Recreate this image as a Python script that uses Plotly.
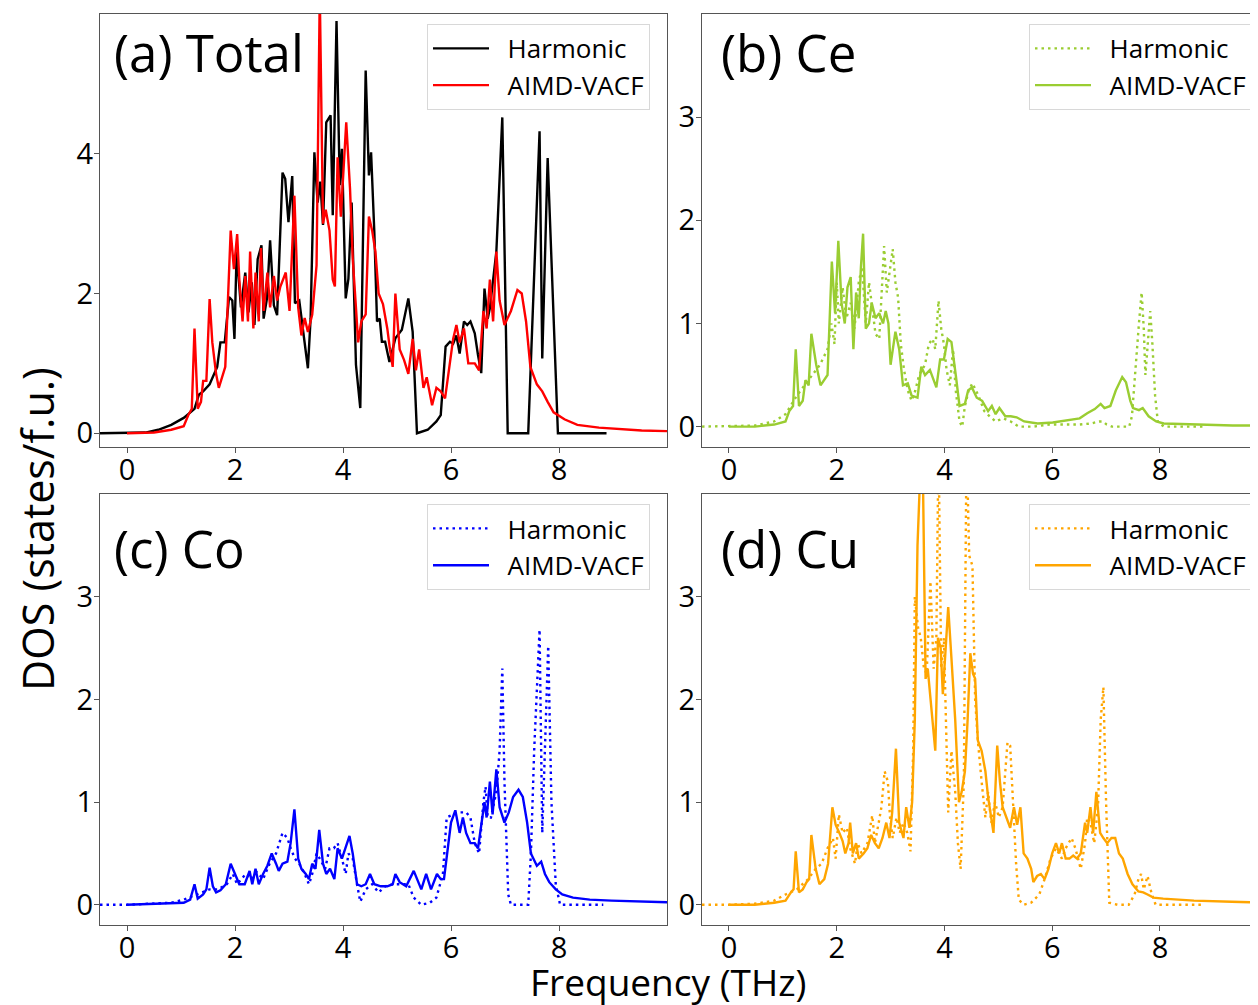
import plotly.graph_objects as go

# ---------------- data (frequency THz, DOS states/f.u.) ----------------
total_harmonic = [(-0.5,0),(0.0,0),(0.34,0.01),(0.58,0.05),(0.82,0.12),(1.05,0.22),(1.25,0.35),(1.33,0.55),(1.41,0.6),(1.53,0.7),(1.61,0.85),(1.67,0.95),(1.73,1.3),(1.81,1.3),(1.89,1.95),(1.95,1.9),(1.99,1.35),(2.03,2.6),(2.06,2.3),(2.11,1.8),(2.19,2.3),(2.25,1.73),(2.31,2.16),(2.36,1.55),(2.42,2.49),(2.49,2.69),(2.53,1.64),(2.59,1.92),(2.65,2.76),(2.72,1.83),(2.78,1.69),(2.88,3.73),(2.93,3.64),(2.99,3.02),(3.06,3.68),(3.11,1.86),(3.19,1.9),(3.31,1.21),(3.35,0.93),(3.4,1.64),(3.47,4.02),(3.53,3.3),(3.58,3.6),(3.63,2.98),(3.69,4.45),(3.77,4.55),(3.81,3.12),(3.88,5.9),(3.94,3.55),(3.98,4.07),(4.05,1.93),(4.1,2.21),(4.16,3.3),(4.24,0.98),(4.32,0.36),(4.42,5.19),(4.48,3.69),(4.52,4.02),(4.58,2.88),(4.63,1.6),(4.68,1.64),(4.72,1.31),(4.78,1.31),(4.86,1.02),(4.97,1.36),(5.09,1.48),(5.21,1.93),(5.29,1.45),(5.37,0.0),(5.57,0.05),(5.73,0.17),(5.81,0.26),(5.9,1.24),(5.98,1.31),(6.04,1.28),(6.1,1.4),(6.16,1.14),(6.24,1.6),(6.3,1.55),(6.36,1.6),(6.44,1.43),(6.5,1.12),(6.56,0.86),(6.62,2.07),(6.68,1.64),(6.72,1.79),(6.84,2.6),(6.95,4.52),(7.05,0.0),(7.43,0.0),(7.64,4.32),(7.69,1.07),(7.79,3.94),(7.98,0.0),(8.88,0.0)]
total_aimd = [(0.0,0),(0.5,0.01),(0.82,0.05),(1.05,0.1),(1.13,0.25),(1.2,0.35),(1.25,1.5),(1.31,0.35),(1.37,0.45),(1.41,0.75),(1.47,0.75),(1.53,1.92),(1.58,1.3),(1.65,0.85),(1.7,0.65),(1.82,0.95),(1.92,2.9),(1.98,2.35),(2.04,2.85),(2.08,2.2),(2.14,1.6),(2.19,2.25),(2.24,1.6),(2.28,2.6),(2.34,1.5),(2.38,2.3),(2.44,1.6),(2.48,2.65),(2.53,1.75),(2.6,2.3),(2.65,1.8),(2.72,2.25),(2.78,1.9),(2.84,2.1),(2.94,2.3),(3.01,1.75),(3.1,3.4),(3.17,1.8),(3.23,1.4),(3.29,1.65),(3.35,1.45),(3.43,1.7),(3.51,2.4),(3.57,6.3),(3.63,3.0),(3.68,3.2),(3.75,2.9),(3.81,2.2),(3.85,2.1),(3.9,3.95),(3.96,3.1),(4.0,3.6),(4.06,4.45),(4.13,3.5),(4.18,2.5),(4.24,1.8),(4.28,1.3),(4.34,1.6),(4.42,1.7),(4.48,3.1),(4.54,2.9),(4.6,2.6),(4.66,2.0),(4.74,1.85),(4.82,1.5),(4.87,1.2),(4.92,0.95),(4.97,2.0),(5.05,1.2),(5.13,1.05),(5.21,0.85),(5.29,1.35),(5.35,0.9),(5.41,1.2),(5.49,0.65),(5.55,0.8),(5.65,0.4),(5.73,0.65),(5.81,0.6),(5.89,0.5),(5.96,0.9),(6.04,1.35),(6.1,1.55),(6.16,1.3),(6.24,1.5),(6.32,1.0),(6.44,1.0),(6.52,0.9),(6.6,1.75),(6.66,1.5),(6.72,2.2),(6.78,1.6),(6.84,2.6),(6.9,1.9),(6.99,1.55),(7.11,1.75),(7.23,2.05),(7.31,2.0),(7.39,1.6),(7.47,0.95),(7.59,0.7),(7.69,0.6),(7.79,0.45),(7.9,0.3),(8.1,0.2),(8.34,0.12),(8.74,0.08),(9.13,0.06),(9.53,0.04),(10.0,0.03)]

ce_harmonic = [(-0.5,0),(0.48,0.01),(0.84,0.05),(1.05,0.12),(1.26,0.3),(1.48,0.45),(1.69,0.6),(1.83,0.75),(1.9,1.0),(1.96,0.8),(2.0,1.4),(2.04,1.0),(2.11,1.35),(2.18,1.05),(2.26,1.2),(2.33,0.95),(2.41,1.4),(2.47,1.55),(2.54,1.0),(2.6,1.4),(2.65,1.2),(2.72,0.9),(2.79,0.85),(2.84,1.3),(2.88,1.75),(2.93,1.3),(2.99,1.55),(3.04,1.72),(3.09,1.4),(3.14,1.25),(3.19,0.8),(3.25,0.55),(3.32,0.35),(3.39,0.25),(3.46,0.35),(3.53,0.5),(3.64,0.6),(3.71,0.8),(3.78,0.85),(3.83,0.75),(3.89,1.22),(3.94,0.95),(3.99,0.8),(4.04,0.55),(4.1,0.4),(4.16,0.75),(4.21,0.35),(4.28,0.05),(4.33,0.0),(4.38,0.2),(4.45,0.35),(4.52,0.42),(4.63,0.3),(4.74,0.15),(4.84,0.1),(4.95,0.05),(5.09,0.08),(5.23,0.05),(5.38,0.0),(5.66,0.0),(5.94,0.02),(6.23,0.02),(6.51,0.02),(6.72,0.03),(6.87,0.05),(6.94,0.05),(7.01,0.02),(7.11,0.0),(7.43,0.0),(7.48,0.1),(7.54,0.55),(7.61,1.0),(7.66,1.3),(7.7,0.95),(7.73,0.5),(7.77,0.8),(7.82,1.12),(7.86,0.8),(7.91,0.3),(7.96,0.05),(8.07,0.0),(8.8,0.0)]
ce_aimd = [(0,0),(0.48,0.0),(0.84,0.02),(1.05,0.05),(1.12,0.15),(1.19,0.2),(1.24,0.75),(1.3,0.2),(1.37,0.25),(1.42,0.45),(1.48,0.4),(1.53,0.9),(1.62,0.6),(1.7,0.4),(1.83,0.5),(1.91,1.6),(1.97,1.1),(2.03,1.8),(2.09,1.2),(2.15,1.0),(2.2,1.35),(2.26,1.45),(2.31,0.75),(2.36,1.3),(2.41,1.05),(2.45,1.55),(2.49,1.87),(2.54,0.95),(2.6,1.0),(2.65,1.2),(2.72,1.05),(2.79,1.1),(2.86,1.0),(2.91,1.12),(2.96,1.0),(3.0,0.6),(3.09,0.92),(3.16,0.75),(3.23,0.4),(3.32,0.42),(3.39,0.3),(3.5,0.28),(3.57,0.58),(3.64,0.5),(3.73,0.55),(3.8,0.45),(3.85,0.38),(3.92,0.65),(3.99,0.65),(4.06,0.85),(4.13,0.82),(4.21,0.5),(4.28,0.2),(4.38,0.22),(4.44,0.35),(4.51,0.38),(4.6,0.28),(4.7,0.25),(4.81,0.15),(4.88,0.2),(4.95,0.12),(5.02,0.18),(5.13,0.1),(5.23,0.1),(5.34,0.09),(5.48,0.05),(5.73,0.03),(6.01,0.04),(6.3,0.06),(6.51,0.08),(6.65,0.13),(6.79,0.17),(6.9,0.22),(6.97,0.18),(7.08,0.2),(7.18,0.35),(7.3,0.48),(7.37,0.43),(7.45,0.25),(7.5,0.18),(7.61,0.16),(7.68,0.18),(7.79,0.1),(7.93,0.05),(8.07,0.03),(8.64,0.02),(9.35,0.01),(10.0,0.01)]

co_harmonic = [(-0.5,0),(0.0,0),(0.82,0.02),(1.05,0.05),(1.29,0.1),(1.53,0.15),(1.69,0.15),(1.85,0.2),(1.96,0.3),(2.04,0.2),(2.2,0.3),(2.32,0.25),(2.4,0.32),(2.52,0.25),(2.64,0.4),(2.76,0.5),(2.88,0.7),(2.97,0.65),(3.03,0.55),(3.11,0.45),(3.19,0.4),(3.29,0.3),(3.37,0.2),(3.43,0.3),(3.51,0.5),(3.57,0.45),(3.67,0.35),(3.75,0.55),(3.83,0.55),(3.9,0.6),(3.98,0.45),(4.05,0.3),(4.1,0.5),(4.18,0.45),(4.26,0.2),(4.32,0.03),(4.42,0.15),(4.54,0.2),(4.66,0.12),(4.78,0.18),(4.93,0.2),(5.09,0.2),(5.21,0.2),(5.31,0.07),(5.45,0.0),(5.61,0.02),(5.73,0.07),(5.85,0.3),(5.92,0.85),(6.04,0.88),(6.16,0.9),(6.28,0.9),(6.36,0.85),(6.44,0.6),(6.52,0.5),(6.6,1.0),(6.64,1.15),(6.68,0.85),(6.74,0.85),(6.84,1.1),(6.9,1.5),(6.95,2.3),(6.99,1.2),(7.06,0.1),(7.11,0.0),(7.43,0.0),(7.48,0.5),(7.54,1.5),(7.64,2.68),(7.69,0.7),(7.74,1.5),(7.8,2.52),(7.86,1.0),(7.94,0.2),(8.02,0.0),(8.82,0.0)]
co_aimd = [(0,0),(0.82,0.01),(1.05,0.02),(1.17,0.05),(1.25,0.2),(1.31,0.06),(1.41,0.1),(1.47,0.15),(1.53,0.36),(1.59,0.18),(1.65,0.12),(1.73,0.14),(1.83,0.2),(1.92,0.4),(2.0,0.3),(2.08,0.2),(2.18,0.2),(2.27,0.33),(2.32,0.2),(2.38,0.35),(2.44,0.2),(2.52,0.3),(2.6,0.38),(2.68,0.5),(2.76,0.4),(2.81,0.33),(2.88,0.4),(2.97,0.42),(3.03,0.6),(3.1,0.93),(3.17,0.45),(3.23,0.35),(3.31,0.3),(3.37,0.25),(3.43,0.4),(3.49,0.35),(3.56,0.73),(3.63,0.4),(3.69,0.3),(3.76,0.35),(3.84,0.25),(3.9,0.55),(3.98,0.45),(4.05,0.55),(4.12,0.67),(4.18,0.5),(4.26,0.2),(4.34,0.18),(4.42,0.2),(4.5,0.3),(4.58,0.2),(4.7,0.18),(4.82,0.18),(4.92,0.2),(4.97,0.3),(5.05,0.22),(5.17,0.18),(5.31,0.33),(5.45,0.15),(5.54,0.3),(5.63,0.15),(5.74,0.3),(5.81,0.25),(5.87,0.25),(5.95,0.6),(6.0,0.8),(6.08,0.92),(6.16,0.7),(6.22,0.85),(6.28,0.7),(6.36,0.6),(6.44,0.6),(6.5,0.55),(6.56,0.8),(6.62,1.0),(6.66,0.85),(6.72,1.2),(6.77,0.88),(6.84,1.32),(6.9,0.95),(6.99,0.8),(7.07,0.9),(7.15,1.05),(7.25,1.12),(7.33,1.05),(7.41,0.8),(7.48,0.5),(7.59,0.38),(7.67,0.42),(7.74,0.3),(7.82,0.22),(7.94,0.15),(8.06,0.1),(8.26,0.07),(8.57,0.05),(8.97,0.04),(9.53,0.03),(10.0,0.025)]

cu_harmonic = [(-0.5,0),(0.0,0),(0.48,0.01),(0.84,0.04),(1.05,0.1),(1.26,0.15),(1.47,0.25),(1.61,0.35),(1.72,0.4),(1.83,0.55),(1.93,0.65),(1.98,0.45),(2.04,0.88),(2.11,0.7),(2.19,0.75),(2.25,0.55),(2.34,0.4),(2.39,0.6),(2.46,0.5),(2.57,0.6),(2.66,0.87),(2.71,0.6),(2.78,0.8),(2.83,0.95),(2.89,1.3),(2.95,1.2),(2.99,0.85),(3.04,0.65),(3.11,0.85),(3.17,0.7),(3.24,0.8),(3.31,0.7),(3.37,0.52),(3.42,1.5),(3.45,3.0),(3.51,2.7),(3.56,2.6),(3.62,2.3),(3.67,2.25),(3.74,3.15),(3.8,2.3),(3.85,2.6),(3.89,4.5),(3.94,2.3),(3.99,2.6),(4.04,1.4),(4.07,0.9),(4.13,1.5),(4.2,1.1),(4.25,0.6),(4.3,0.35),(4.36,1.2),(4.41,4.5),(4.46,3.4),(4.52,3.3),(4.57,2.0),(4.62,1.6),(4.69,1.2),(4.76,0.85),(4.81,1.1),(4.87,0.8),(4.94,1.0),(5.01,0.85),(5.08,0.95),(5.17,1.58),(5.22,1.55),(5.28,0.9),(5.33,0.4),(5.38,0.05),(5.47,0.0),(5.61,0.02),(5.76,0.1),(5.86,0.25),(5.97,0.45),(6.07,0.55),(6.18,0.45),(6.25,0.55),(6.36,0.65),(6.43,0.55),(6.53,0.35),(6.61,0.6),(6.65,0.85),(6.71,0.8),(6.78,0.6),(6.85,0.95),(6.9,1.8),(6.95,2.12),(7.0,1.0),(7.06,0.02),(7.21,0.0),(7.42,0.0),(7.53,0.1),(7.6,0.25),(7.65,0.3),(7.7,0.15),(7.77,0.28),(7.84,0.12),(7.92,0.0),(8.83,0.0)]
cu_aimd = [(0,0),(0.48,0.0),(0.84,0.02),(1.05,0.04),(1.15,0.12),(1.2,0.15),(1.24,0.52),(1.3,0.12),(1.37,0.15),(1.44,0.22),(1.49,0.25),(1.53,0.68),(1.61,0.35),(1.68,0.2),(1.77,0.25),(1.84,0.4),(1.92,0.95),(1.98,0.78),(2.05,0.7),(2.11,0.62),(2.16,0.5),(2.22,0.6),(2.25,0.8),(2.3,0.5),(2.36,0.6),(2.41,0.45),(2.5,0.5),(2.57,0.55),(2.64,0.68),(2.71,0.6),(2.78,0.55),(2.85,0.65),(2.92,0.8),(2.98,0.65),(3.03,0.9),(3.1,1.52),(3.16,0.8),(3.21,0.7),(3.24,0.65),(3.29,0.95),(3.35,0.75),(3.4,1.0),(3.45,1.8),(3.5,3.5),(3.55,4.2),(3.6,4.2),(3.65,2.2),(3.69,2.3),(3.74,2.0),(3.8,1.6),(3.83,1.5),(3.88,2.6),(3.93,2.5),(3.97,2.05),(4.02,2.5),(4.07,2.9),(4.13,2.4),(4.2,1.8),(4.27,1.0),(4.32,1.1),(4.38,1.3),(4.43,1.8),(4.48,2.45),(4.53,2.25),(4.57,2.2),(4.62,1.6),(4.69,1.5),(4.76,1.3),(4.81,1.05),(4.87,0.85),(4.91,0.7),(4.98,1.55),(5.03,1.2),(5.08,0.95),(5.15,0.85),(5.22,0.75),(5.29,0.95),(5.35,0.78),(5.41,0.95),(5.47,0.5),(5.54,0.45),(5.61,0.35),(5.65,0.22),(5.72,0.28),(5.79,0.3),(5.86,0.25),(5.93,0.35),(6.0,0.5),(6.07,0.6),(6.13,0.5),(6.18,0.6),(6.25,0.45),(6.32,0.45),(6.39,0.48),(6.46,0.45),(6.53,0.5),(6.61,0.8),(6.65,0.7),(6.71,0.95),(6.76,0.7),(6.82,1.1),(6.89,0.7),(6.95,0.65),(7.02,0.6),(7.1,0.65),(7.17,0.65),(7.24,0.5),(7.31,0.45),(7.4,0.3),(7.49,0.2),(7.6,0.13),(7.69,0.12),(7.77,0.1),(7.88,0.07),(8.06,0.06),(8.27,0.05),(8.63,0.04),(9.33,0.03),(10.0,0.02)]

panel_titles = ["(a) Total", "(b) Ce", "(c) Co", "(d) Cu"]
series_names = ["\u00a0\u00a0Harmonic", "\u00a0\u00a0AIMD-VACF"]
x_ticks = [0, 2, 4, 6, 8]
y_ticks_total = [0, 2, 4]
y_ticks_partial = [0, 1, 2, 3]
x_label = "Frequency (THz)"
y_label = "DOS (states/f.u.)"

# ---------------- figure ----------------
OFF = 8                      # page body margin of the html page
W, H = 1258 - OFF, 1005 - OFF
FONT = "Open Sans"
frame = "#555555"

def px(xp):
    return (xp - OFF) / W

def py(yp):
    return 1 - (yp - OFF) / H

panels = [
    dict(h=total_harmonic, a=total_aimd, hc="black", ac="red", hdash="solid",
         xd=[px(100), px(667)], yd=[py(449), py(14)], xr=[-0.5, 10.0], yr=[-0.2, 6.0],
         yt=y_ticks_total, leg=(427, 24), tit=(112, 52), mirror=True),
    dict(h=ce_harmonic, a=ce_aimd, hc="#9ACD32", ac="#9ACD32", hdash="2.5px,4px",
         xd=[px(702), 1.0], yd=[py(449), py(14)], xr=[-0.5, 9.82], yr=[-0.2, 4.0],
         yt=y_ticks_partial, leg=(1029, 24), tit=(719, 52), mirror=False),
    dict(h=co_harmonic, a=co_aimd, hc="#0000FF", ac="#0000FF", hdash="2.5px,4px",
         xd=[px(100), px(667)], yd=[py(929), py(496)], xr=[-0.5, 10.0], yr=[-0.2, 4.0],
         yt=y_ticks_partial, leg=(427, 506), tit=(112, 550), mirror=True),
    dict(h=cu_harmonic, a=cu_aimd, hc="#FFA500", ac="#FFA500", hdash="2.5px,4px",
         xd=[px(702), 1.0], yd=[py(929), py(496)], xr=[-0.5, 9.82], yr=[-0.2, 4.0],
         yt=y_ticks_partial, leg=(1029, 506), tit=(719, 550), mirror=False),
]

fig = go.Figure()
layout = dict(width=W, height=H, margin=dict(l=0, r=0, t=0, b=0),
              paper_bgcolor="white", plot_bgcolor="white",
              font=dict(family=FONT, color="black"), showlegend=True)
annotations = []

for i, p in enumerate(panels):
    n = "" if i == 0 else str(i + 1)
    leg = "legend" if i == 0 else f"legend{i + 1}"
    hx = [v[0] for v in p["h"]]
    hy = [v[1] for v in p["h"]]
    ax_ = [v[0] for v in p["a"]]
    ay = [v[1] for v in p["a"]]
    fig.add_trace(go.Scatter(x=hx, y=hy, mode="lines", name=series_names[0],
                             line=dict(color=p["hc"], width=2.4, dash=p["hdash"]),
                             xaxis="x" + n, yaxis="y" + n, legend=leg))
    fig.add_trace(go.Scatter(x=ax_, y=ay, mode="lines", name=series_names[1],
                             line=dict(color=p["ac"], width=2.4),
                             xaxis="x" + n, yaxis="y" + n, legend=leg))
    layout["xaxis" + n] = dict(domain=p["xd"], range=p["xr"], anchor="y" + n,
                               showline=True, linecolor=frame, linewidth=1.2, mirror=True,
                               ticks="outside", ticklen=5, tickcolor=frame, tickwidth=1,
                               tickvals=x_ticks, tickfont=dict(size=29, family=FONT),
                               ticklabelstandoff=-8,
                               showgrid=False, zeroline=False)
    layout["yaxis" + n] = dict(domain=p["yd"], range=p["yr"], anchor="x" + n,
                               showline=True, linecolor=frame, linewidth=1.2, mirror=p["mirror"],
                               ticks="outside", ticklen=5, tickcolor=frame, tickwidth=1,
                               tickvals=p["yt"], tickfont=dict(size=29, family=FONT),
                               ticklabelstandoff=-5,
                               showgrid=False, zeroline=False)
    layout[leg] = dict(x=px(p["leg"][0]), y=py(p["leg"][1]), xanchor="left", yanchor="top",
                       xref="paper", yref="paper",
                       bgcolor="rgba(255,255,255,0.85)", bordercolor="#d8d8d8", borderwidth=1,
                       font=dict(size=26, family=FONT, color="black"),
                       tracegroupgap=0, itemwidth=56)
    annotations.append(dict(text=panel_titles[i], x=px(p["tit"][0]), y=py(p["tit"][1]),
                            xref="paper", yref="paper", xanchor="left", yanchor="middle",
                            showarrow=False, font=dict(size=51, family=FONT, color="black")))

annotations.append(dict(text=x_label, x=px(668), y=py(985), xref="paper", yref="paper",
                        xanchor="center", yanchor="middle", showarrow=False,
                        font=dict(size=37, family=FONT, color="black")))
annotations.append(dict(text=y_label, x=px(38), y=py(531), xref="paper", yref="paper",
                        xanchor="center", yanchor="middle", showarrow=False, textangle=-90,
                        font=dict(size=43, family=FONT, color="black")))
layout["annotations"] = annotations
fig.update_layout(**layout)
fig.write_html("out.html")
